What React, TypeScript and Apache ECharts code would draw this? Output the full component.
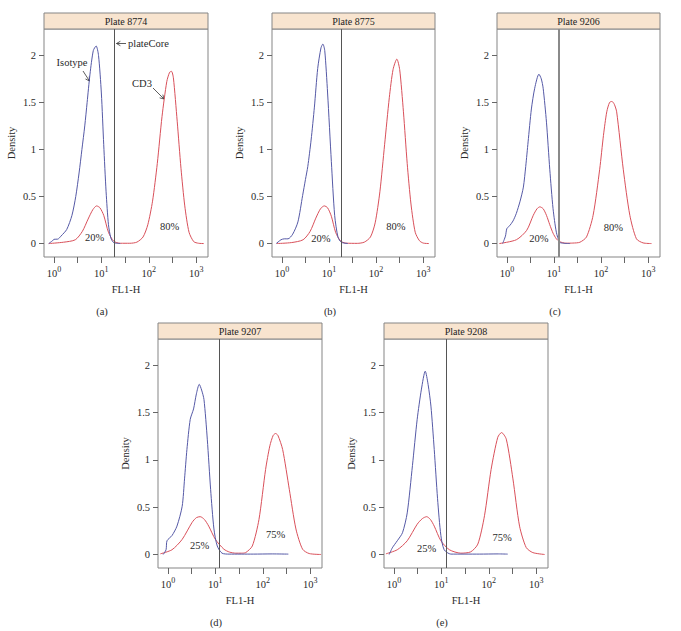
import React, { useEffect, useRef } from "react";
import * as echarts from "echarts";

// ---------- data (x = log10 FL1-H, y = density) ----------
const plateNames = ["Plate 8774", "Plate 8775", "Plate 9206", "Plate 9207", "Plate 9208"];
const panelTags = ["(a)", "(b)", "(c)", "(d)", "(e)"];
const plateCore = [1.266, 1.256, 1.1, 1.095, 1.108];

const isoA = [[-0.11,0],[-0.03,0.03],[0.0,0.045],[0.08,0.047],[0.15,0.08],[0.27,0.15],[0.38,0.3],[0.46,0.5],[0.53,0.75],[0.59,1.0],[0.65,1.25],[0.7,1.5],[0.76,1.8],[0.83,2.05],[0.89,2.1],[0.94,2.0],[1.0,1.6],[1.05,1.05],[1.1,0.55],[1.15,0.2],[1.2,0.06],[1.26,0.01],[1.4,0]];
const cd3A = [[-0.11,0],[0.2,0.014],[0.45,0.04],[0.6,0.13],[0.72,0.26],[0.82,0.36],[0.9,0.4],[0.97,0.38],[1.05,0.3],[1.15,0.12],[1.26,0.025],[1.4,0.003],[1.6,0.003],[1.75,0.015],[1.88,0.07],[1.98,0.2],[2.08,0.45],[2.18,0.85],[2.28,1.35],[2.38,1.72],[2.44,1.82],[2.48,1.83],[2.52,1.76],[2.6,1.3],[2.68,0.8],[2.76,0.4],[2.85,0.12],[2.95,0.02],[3.05,0.003],[3.16,0]];

const isoB = [[-0.12,0],[-0.02,0.04],[0.05,0.05],[0.13,0.05],[0.23,0.1],[0.34,0.23],[0.44,0.51],[0.5,0.68],[0.55,0.82],[0.62,1.1],[0.69,1.45],[0.76,1.86],[0.83,2.08],[0.87,2.12],[0.91,2.05],[0.97,1.6],[1.05,0.87],[1.12,0.3],[1.19,0.07],[1.26,0.014],[1.4,0]];
const cd3B = [[-0.11,0],[0.2,0.01],[0.45,0.04],[0.6,0.13],[0.72,0.27],[0.82,0.37],[0.9,0.4],[0.97,0.38],[1.05,0.29],[1.14,0.12],[1.24,0.03],[1.35,0.005],[1.6,0.002],[1.75,0.015],[1.88,0.07],[1.98,0.22],[2.08,0.55],[2.18,1.05],[2.28,1.55],[2.36,1.85],[2.44,1.96],[2.5,1.85],[2.58,1.4],[2.66,0.85],[2.74,0.42],[2.83,0.12],[2.92,0.03],[3.0,0.005],[3.12,0]];

const isoC = [[-0.09,0],[-0.03,0.08],[0.0,0.16],[0.06,0.19],[0.13,0.24],[0.2,0.32],[0.28,0.45],[0.35,0.6],[0.4,0.82],[0.45,1.08],[0.52,1.43],[0.59,1.65],[0.68,1.8],[0.73,1.75],[0.77,1.65],[0.84,1.29],[0.91,0.79],[0.98,0.37],[1.05,0.12],[1.12,0.014],[1.2,0.003],[1.34,0]];
const cd3C = [[-0.16,0],[0.2,0.04],[0.42,0.14],[0.56,0.3],[0.64,0.37],[0.7,0.39],[0.77,0.37],[0.84,0.3],[0.91,0.2],[0.98,0.11],[1.05,0.05],[1.12,0.02],[1.25,0.004],[1.4,0.005],[1.55,0.014],[1.69,0.07],[1.83,0.3],[1.97,0.79],[2.05,1.15],[2.12,1.4],[2.18,1.5],[2.23,1.51],[2.28,1.48],[2.33,1.4],[2.47,0.79],[2.61,0.3],[2.75,0.05],[2.89,0.007],[3.07,0]];

const isoD = [[-0.1,0],[-0.04,0.05],[-0.02,0.145],[0.085,0.2],[0.19,0.3],[0.3,0.51],[0.35,0.8],[0.4,1.11],[0.47,1.43],[0.54,1.54],[0.6,1.7],[0.66,1.8],[0.71,1.74],[0.76,1.64],[0.83,1.22],[0.9,0.69],[0.97,0.27],[1.04,0.09],[1.14,0.014],[1.29,0.004],[1.8,0.004],[2.2,0.006],[2.54,0.004]];
const cd3D = [[-0.16,0.007],[0.085,0.05],[0.3,0.16],[0.51,0.34],[0.6,0.39],[0.68,0.4],[0.77,0.37],[0.86,0.3],[1.0,0.16],[1.18,0.056],[1.3,0.025],[1.43,0.014],[1.55,0.014],[1.64,0.02],[1.78,0.09],[1.92,0.37],[2.06,0.9],[2.15,1.15],[2.22,1.26],[2.27,1.28],[2.32,1.26],[2.42,1.11],[2.56,0.69],[2.7,0.27],[2.84,0.056],[2.98,0.01],[3.23,0]];

const isoE = [[-0.1,0],[-0.035,0.07],[0.07,0.145],[0.18,0.23],[0.28,0.44],[0.39,0.94],[0.49,1.43],[0.58,1.75],[0.66,1.94],[0.72,1.8],[0.78,1.57],[0.85,1.11],[0.92,0.59],[0.99,0.2],[1.06,0.05],[1.2,0.004],[1.8,0.004],[2.2,0.006],[2.4,0.004]];
const cd3E = [[-0.17,0.007],[0.07,0.05],[0.28,0.145],[0.49,0.32],[0.6,0.38],[0.69,0.4],[0.77,0.37],[0.85,0.3],[0.99,0.145],[1.17,0.05],[1.41,0.014],[1.62,0.028],[1.77,0.11],[1.91,0.41],[2.05,0.9],[2.19,1.24],[2.27,1.29],[2.37,1.22],[2.51,0.8],[2.65,0.3],[2.79,0.074],[2.93,0.02],[3.18,0]];

const isotypeCurves = [isoA, isoB, isoC, isoD, isoE];
const cd3Curves = [cd3A, cd3B, cd3C, cd3D, cd3E];

// percentage labels: [x, y, text] (left bump, right bump)
const pctLeft = [[0.86, 0.06, "20%"], [0.83, 0.053, "20%"], [0.68, 0.05, "20%"], [0.67, 0.09, "25%"], [0.69, 0.06, "25%"]];
const pctRight = [[2.44, 0.18, "80%"], [2.42, 0.18, "80%"], [2.26, 0.175, "80%"], [2.27, 0.215, "75%"], [2.28, 0.18, "75%"]];

const xLabelTicks = [0, 1, 2, 3];
const xMinorTicks = [0, 0.5, 1, 1.5, 2, 2.5, 3];
const yTicks = [0, 0.5, 1, 1.5, 2];

// ---------- layout ----------
const gridBoxes = [
  { left: 44, top: 29, width: 164, height: 228 },
  { left: 272, top: 29, width: 163, height: 228 },
  { left: 497, top: 29, width: 163, height: 228 },
  { left: 158, top: 339, width: 164, height: 229 },
  { left: 384, top: 339, width: 164, height: 229 },
];
const FONT = "Liberation Serif";
const TXT = "#2a2a2a";
const BLUE = "#5559a6";
const RED = "#d9505a";
const FRAME = "#858585";

function arrow(x1: number, y1: number, x2: number, y2: number) {
  const dx = x2 - x1, dy = y2 - y1;
  const L = Math.sqrt(dx * dx + dy * dy);
  const ux = dx / L, uy = dy / L;
  const h = 4.5, a = Math.PI / 6;
  const c = Math.cos(a), s = Math.sin(a);
  const p1 = [x2 - h * (ux * c - uy * s), y2 - h * (uy * c + ux * s)];
  const p2 = [x2 - h * (ux * c + uy * s), y2 - h * (uy * c - ux * s)];
  return [
    { type: "line", shape: { x1, y1, x2, y2 }, style: { stroke: "#333", lineWidth: 0.8 } },
    { type: "polyline", shape: { points: [p1, [x2, y2], p2] }, style: { stroke: "#333", lineWidth: 0.8, fill: null } },
  ];
}

export default function App() {
  const ref = useRef<HTMLDivElement>(null);
  useEffect(() => {
    if (!ref.current) return;
    const chart = echarts.init(ref.current, null, { renderer: "svg" });

    const grids = gridBoxes.map((g) => ({
      ...g,
      show: true,
      borderColor: FRAME,
      borderWidth: 1,
      backgroundColor: "#fff",
    }));

    const xAxes = gridBoxes.map((_, i) => ({
      gridIndex: i,
      type: "value",
      position: "bottom",
      min: -0.21,
      max: 3.25,
      axisLine: { show: false, onZero: false },
      splitLine: { show: false },
      axisTick: { show: true, customValues: xMinorTicks, length: 6, lineStyle: { color: "#666" } },
      axisLabel: {
        customValues: xLabelTicks,
        margin: 8,
        formatter: (v: number) => `{b|10}{s|${v}}`,
        rich: {
          b: { fontFamily: FONT, fontSize: 10.5, color: TXT, lineHeight: 14, verticalAlign: "bottom" },
          s: { fontFamily: FONT, fontSize: 8, color: TXT, lineHeight: 9, verticalAlign: "top" },
        },
      },
      name: "FL1-H",
      nameLocation: "middle",
      nameGap: 27,
      nameTextStyle: { fontFamily: FONT, fontSize: 10.5, color: TXT },
    }));

    const yAxes = gridBoxes.map((_, i) => ({
      gridIndex: i,
      type: "value",
      position: "left",
      min: -0.143,
      max: 2.28,
      axisLine: { show: false, onZero: false },
      splitLine: { show: false },
      axisTick: { show: true, customValues: yTicks, length: 5, lineStyle: { color: "#666" } },
      axisLabel: {
        customValues: yTicks,
        margin: 8,
        formatter: (v: number) => String(v),
        fontFamily: FONT,
        fontSize: 10.5,
        color: TXT,
      },
      name: "Density",
      nameLocation: "middle",
      nameGap: 27,
      nameRotate: 90,
      nameTextStyle: { fontFamily: FONT, fontSize: 10.5, color: TXT },
    }));

    const series: any[] = [];
    gridBoxes.forEach((_, i) => {
      series.push({
        type: "line",
        xAxisIndex: i,
        yAxisIndex: i,
        data: cd3Curves[i],
        showSymbol: false,
        smooth: 0.25,
        lineStyle: { color: RED, width: 1 },
        silent: true,
      });
      series.push({
        type: "line",
        xAxisIndex: i,
        yAxisIndex: i,
        data: isotypeCurves[i],
        showSymbol: false,
        smooth: 0.25,
        lineStyle: { color: BLUE, width: 1 },
        silent: true,
        markLine: {
          silent: true,
          symbol: ["none", "none"],
          label: { show: false },
          lineStyle: { color: i === 2 ? "#8a8a8a" : "#555", width: i === 2 ? 2 : 1, type: "solid" },
          data: [{ xAxis: plateCore[i] }],
        },
      });
    });

    const graphic: any[] = [];
    gridBoxes.forEach((g, i) => {
      graphic.push({
        type: "rect",
        shape: { x: g.left, y: g.top - 16, width: g.width, height: 16 },
        style: { fill: "#f8e4cf", stroke: FRAME, lineWidth: 1 },
      });
      graphic.push({
        type: "text",
        x: g.left + g.width / 2,
        y: g.top - 8,
        style: { text: plateNames[i], fontFamily: FONT, fontSize: 10, fill: "#222", align: "center", verticalAlign: "middle" },
      });
      graphic.push({
        type: "text",
        x: g.left + 58,
        y: g.top + g.height + 54,
        style: { text: panelTags[i], fontFamily: FONT, fontSize: 10.5, fill: TXT, align: "center", verticalAlign: "middle" },
      });
    });
    // annotations in panel (a)
    graphic.push({ type: "text", x: 72, y: 62, style: { text: "Isotype", fontFamily: FONT, fontSize: 10.5, fill: TXT, align: "center", verticalAlign: "middle" } });
    graphic.push(...arrow(83, 71, 89.5, 81));
    graphic.push({ type: "text", x: 142, y: 83, style: { text: "CD3", fontFamily: FONT, fontSize: 10.5, fill: TXT, align: "center", verticalAlign: "middle" } });
    graphic.push(...arrow(153, 88, 164, 99));
    graphic.push(...arrow(126, 43.5, 116.5, 43.5));
    graphic.push({ type: "text", x: 128, y: 43.5, style: { text: "plateCore", fontFamily: FONT, fontSize: 10.5, fill: TXT, align: "left", verticalAlign: "middle" } });

    chart.setOption({
      animation: false,
      backgroundColor: "#fff",
      grid: grids,
      xAxis: xAxes,
      yAxis: yAxes,
      series,
      graphic,
    });

    // percentage labels placed through the axes' own scales
    gridBoxes.forEach((_, i) => {
      [pctLeft[i], pctRight[i]].forEach((p) => {
        const pt = chart.convertToPixel({ gridIndex: i } as any, [p[0] as number, p[1] as number]) as number[];
        graphic.push({
          type: "text",
          x: pt[0],
          y: pt[1],
          style: { text: p[2], fontFamily: FONT, fontSize: 10.5, fill: TXT, align: "center", verticalAlign: "middle" },
        });
      });
    });
    chart.setOption({ graphic });

    return () => chart.dispose();
  }, []);
  return <div ref={ref} style={{ width: 681, height: 631, position: "absolute", left: 0, top: 0 }} />;
}
